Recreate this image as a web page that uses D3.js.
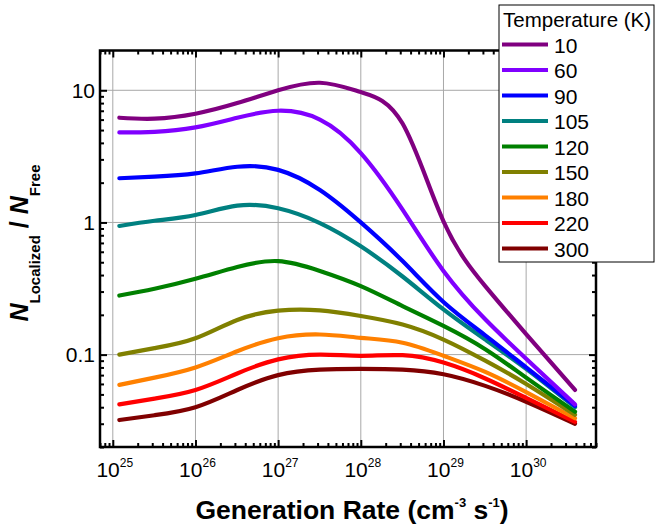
<!DOCTYPE html>
<html>
<head>
<meta charset="utf-8">
<script src="https://cdn.jsdelivr.net/npm/d3@7"></script>
<style>
  body { margin: 0; background: #fff; }
  svg { font-family: "Liberation Sans", Arial, sans-serif; }
</style>
</head>
<body>
<svg id="chart" width="657" height="530"></svg>
<script>
// ---- data ----
const genRate = [1.2e25, 3.2e25, 1e26, 3.2e26, 1e27, 3.2e27, 1e28, 3.2e28, 1e29, 3.2e29, 1e30, 3.9e30];

const temps  = ["10", "60", "90", "105", "120", "150", "180", "220", "300"];
const colors = ["#800080", "#8000ff", "#0000ff", "#008080", "#008000", "#808000", "#ff8000", "#ff0000", "#800000"];

const ratioT10  = [6.2, 6.1, 6.65, 8.0, 10.0, 11.4, 9.7, 5.6, 1.02, 0.33, 0.143, 0.054];
const ratioT60  = [4.8, 4.85, 5.24, 6.2, 7.0, 6.0, 3.35, 1.25, 0.43, 0.185, 0.093, 0.042];
const ratioT90  = [2.16, 2.22, 2.35, 2.64, 2.5, 1.76, 1.0, 0.51, 0.25, 0.14, 0.08, 0.041];
const ratioT105 = [0.94, 1.03, 1.14, 1.34, 1.28, 0.99, 0.66, 0.39, 0.22, 0.13, 0.078, 0.040];
const ratioT120 = [0.28, 0.315, 0.375, 0.46, 0.51, 0.43, 0.33, 0.233, 0.165, 0.11, 0.067, 0.037];
const ratioT150 = [0.1, 0.112, 0.133, 0.183, 0.215, 0.216, 0.196, 0.169, 0.13, 0.09, 0.06, 0.035];
const ratioT180 = [0.059, 0.067, 0.08, 0.106, 0.133, 0.142, 0.134, 0.123, 0.098, 0.074, 0.052, 0.033];
const ratioT220 = [0.042, 0.0465, 0.054, 0.072, 0.092, 0.1, 0.098, 0.099, 0.087, 0.066, 0.047, 0.031];
const ratioT300 = [0.032, 0.0348, 0.040, 0.054, 0.070, 0.077, 0.078, 0.077, 0.071, 0.058, 0.044, 0.030];

const allRatios = [ratioT10, ratioT60, ratioT90, ratioT105, ratioT120, ratioT150, ratioT180, ratioT220, ratioT300];

const xMajor = [1e25, 1e26, 1e27, 1e28, 1e29, 1e30];
const xMajorExp = ["25", "26", "27", "28", "29", "30"];
const yMajor = [0.1, 1, 10];
const yMajorLabels = ["0.1", "1", "10"];

// ---- layout ----
const plot = { l: 100, r: 596, t: 50.5, b: 447 };

const svg = d3.select('#chart');

const x = d3.scaleLog().domain([7e24, 7e30]).range([plot.l, plot.r]);
const y = d3.scaleLog().domain([0.02, 20]).range([plot.b, plot.t]);

const isMajor = (list, v) => list.some(m => Math.abs(m - v) / m < 1e-6);
const xMinor = x.ticks().filter(v => !isMajor(xMajor, v));
const yMinor = y.ticks().filter(v => !isMajor(yMajor, v));

// grid
const grid = svg.append('g').attr('stroke', '#a8a8a8').attr('stroke-width', 1);
grid.selectAll('line.vx').data(xMajor).join('line')
    .attr('x1', d => x(d)).attr('x2', d => x(d))
    .attr('y1', plot.t).attr('y2', plot.b);
grid.selectAll('line.hy').data(yMajor).join('line')
    .attr('x1', plot.l).attr('x2', plot.r)
    .attr('y1', d => y(d)).attr('y2', d => y(d));

// curves
const series = temps.map((t, i) => ({
  temp: t,
  color: colors[i],
  values: genRate.map((g, j) => ({ g, v: allRatios[i][j] }))
}));

const line = d3.line()
    .x(d => x(d.g))
    .y(d => y(d.v))
    .curve(d3.curveNatural);

svg.append('g').selectAll('path.curve')
  .data(series.slice().reverse())
  .join('path')
    .attr('class', 'curve')
    .attr('d', d => line(d.values))
    .attr('fill', 'none')
    .attr('stroke', d => d.color)
    .attr('stroke-width', 4.2)
    .attr('stroke-linecap', 'round');

// axes ticks (inward on all four sides)
function tickAxis(axisFn, scale, values, size, transform) {
  const g = svg.append('g')
      .attr('transform', transform)
      .call(axisFn(scale).tickValues(values).tickSizeInner(size).tickSizeOuter(0).tickFormat(''));
  g.select('.domain').remove();
  g.selectAll('.tick line').attr('stroke', '#000').attr('stroke-width', 2);
  return g;
}
tickAxis(d3.axisBottom, x, xMajor, -7, `translate(0,${plot.b})`);
tickAxis(d3.axisBottom, x, xMinor, -4, `translate(0,${plot.b})`);
tickAxis(d3.axisTop, x, xMajor, -7, `translate(0,${plot.t})`);
tickAxis(d3.axisTop, x, xMinor, -4, `translate(0,${plot.t})`);
tickAxis(d3.axisLeft, y, yMajor, -7, `translate(${plot.l},0)`);
tickAxis(d3.axisLeft, y, yMinor, -4, `translate(${plot.l},0)`);
tickAxis(d3.axisRight, y, yMajor, -7, `translate(${plot.r},0)`);
tickAxis(d3.axisRight, y, yMinor, -4, `translate(${plot.r},0)`);

// frame
svg.append('rect')
    .attr('x', plot.l).attr('y', plot.t)
    .attr('width', plot.r - plot.l).attr('height', plot.b - plot.t)
    .attr('fill', 'none').attr('stroke', '#000').attr('stroke-width', 2.5);

// x tick labels 10^n
const xl = svg.append('g').selectAll('text')
  .data(xMajor.map((v, i) => ({ v, e: xMajorExp[i] })))
  .join('text')
    .attr('x', d => x(d.v) + 2)
    .attr('y', 477)
    .attr('text-anchor', 'middle')
    .attr('font-size', 21)
    .attr('fill', '#000');
xl.append('tspan').text('10');
xl.append('tspan').attr('font-size', 12).attr('dy', -10).text(d => d.e);

// y tick labels
svg.append('g').selectAll('text')
  .data(yMajor.map((v, i) => ({ v, t: yMajorLabels[i] })))
  .join('text')
    .attr('x', 95)
    .attr('y', d => y(d.v) + 7.5)
    .attr('text-anchor', 'end')
    .attr('font-size', 21)
    .attr('fill', '#000')
    .text(d => d.t);

// x title
const xt = svg.append('text')
    .attr('x', 352).attr('y', 519)
    .attr('text-anchor', 'middle')
    .attr('font-size', 26.5).attr('font-weight', 'bold');
xt.append('tspan').text('Generation Rate (cm');
xt.append('tspan').attr('font-size', 13).attr('dy', -12).text('-3');
xt.append('tspan').attr('dy', 12).text(' s');
xt.append('tspan').attr('font-size', 13).attr('dy', -12).text('-1');
xt.append('tspan').attr('dy', 12).text(')');

// y title
const yt = svg.append('text')
    .attr('transform', 'translate(28,243) rotate(-90)')
    .attr('text-anchor', 'middle')
    .attr('font-weight', 'bold');
yt.append('tspan').attr('font-size', 25).attr('font-style', 'italic').text('N');
yt.append('tspan').attr('font-size', 15).attr('dy', 11.5).text('Localized');
yt.append('tspan').attr('font-size', 25).attr('dy', -11.5).attr('dx', 7).text('/');
yt.append('tspan').attr('font-size', 25).attr('font-style', 'italic').attr('dx', 7).text('N');
yt.append('tspan').attr('font-size', 15).attr('dy', 11.5).text('Free');

// legend
const lg = svg.append('g');
lg.append('rect')
    .attr('x', 499).attr('y', 5).attr('width', 155).attr('height', 257)
    .attr('fill', '#fff').attr('stroke', '#000').attr('stroke-width', 1);
lg.append('text')
    .attr('x', 503).attr('y', 27)
    .attr('font-size', 20.5)
    .text('Temperature (K)');
const items = lg.selectAll('g.item').data(series).join('g')
    .attr('class', 'item')
    .attr('transform', (d, i) => `translate(0,${44.5 + i * 25.5})`);
items.append('line')
    .attr('x1', 502).attr('x2', 548)
    .attr('stroke', d => d.color).attr('stroke-width', 4);
items.append('text')
    .attr('x', 554).attr('y', 8)
    .attr('font-size', 21)
    .text(d => d.temp);
</script>
</body>
</html>
